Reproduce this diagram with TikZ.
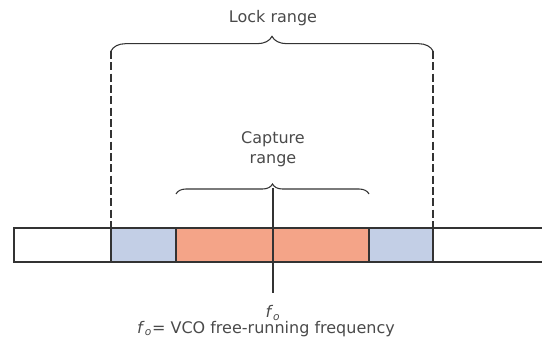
\documentclass[tikz,border=0pt]{standalone}
\usepackage{fontspec}
\setmainfont{DejaVu Sans}
\usepackage{xcolor}
\usepackage{tikz}
\usetikzlibrary{positioning, calc, decorations.pathreplacing}

\definecolor{lockblue}{HTML}{C3CFE6}
\definecolor{capsalmon}{HTML}{F4A488}
\definecolor{linegray}{HTML}{333333}
\definecolor{textgray}{HTML}{4A4A4A}
\newcommand{\fosym}{\textit{f}\textsubscript{\textit{o}}}

\begin{document}
\begin{tikzpicture}[
    x=0.75pt, y=-0.75pt,
    bar/.style={draw=linegray, line width=1.2pt},
    rangebrace/.style={draw=linegray, line width=0.8pt, decorate},
    dashline/.style={draw=linegray, line width=0.8pt, dash pattern=on 6pt off 2.5pt},
    marker/.style={draw=linegray, line width=0.9pt},
    label/.style={font=\fontsize{12}{15}\selectfont, text=textgray, align=center, inner sep=0pt}
]
\clip (0,0) rectangle (542,350);

% bar edges
\foreach \n/\x in {0/14, 1/111, 2/176, 3/369, 4/433, 5/548} {
    \coordinate (t\n) at (\x,228);
    \coordinate (u\n) at (\x,262);
}

% filled ranges
\fill[lockblue] (t1) rectangle (u2);
\fill[capsalmon] (t2) rectangle (u3);
\fill[lockblue] (t3) rectangle (u4);

% frame of the bar
\draw[bar] (t5) -- (t0) -- (u0) -- (u5);
\foreach \n in {1,2,3,4} \draw[bar] (t\n) -- (u\n);

% lock range
\coordinate (lockL) at (111,51);
\coordinate (lockR) at (433,51);
\draw[rangebrace, decoration={brace, amplitude=11pt}] (lockL) -- (lockR);
\draw[dashline] (lockL) -- (t1);
\draw[dashline] (lockR) -- (t4);
\node[label] (locktext) at (273,18) {Lock range};

% capture range
\coordinate (capL) at (176,194);
\coordinate (capR) at (369,194);
\draw[rangebrace, decoration={brace, amplitude=7.5pt}] (capL) -- (capR);
\node[label] (captext) at (273,149) {Capture\\range};

% free-running frequency
\coordinate (fotop) at (273,188);
\coordinate (fobot) at (273,293);
\draw[marker] (fotop) -- (fobot);
\node[label] (fo) at (273,313) {\fosym};
\node[label] (fonote) at (266,329) {\fosym = VCO free-running frequency};

\end{tikzpicture}
\end{document}
